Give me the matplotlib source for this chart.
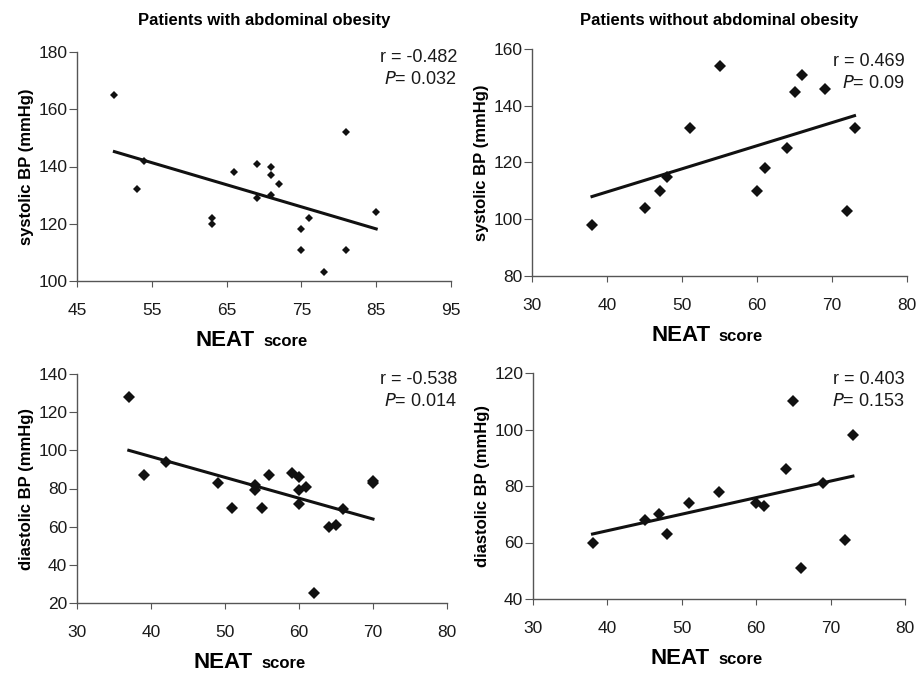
import matplotlib
matplotlib.use("Agg")
import matplotlib.pyplot as plt

plt.rcParams["font.family"] = ["Liberation Sans", "DejaVu Sans"]

# NEAT score vs blood pressure, split by abdominal obesity
sys_ob_x = [50, 53, 54, 63, 63, 66, 69, 69, 71, 71, 71, 72, 75, 75, 76, 78, 81, 81, 85]
sys_ob_y = [165, 132, 142, 122, 120, 138, 141, 129, 140, 137, 130, 134, 118, 111, 122, 103, 152, 111, 124]
sys_ob_fit = ([50, 85], [145.2, 118.2])

sys_no_x = [38, 45, 47, 48, 51, 55, 60, 61, 64, 65, 66, 69, 72, 73]
sys_no_y = [98, 104, 110, 115, 132, 154, 110, 118, 125, 145, 151, 146, 103, 132]
sys_no_fit = ([38, 73], [108, 136.5])

dia_ob_x = [37, 39, 42, 49, 51, 54, 54, 55, 56, 59, 60, 60, 60, 61, 62, 64, 65, 66, 70, 70]
dia_ob_y = [128, 87, 94, 83, 70, 82, 79, 70, 87, 88, 86, 79, 72, 81, 25, 60, 61, 69, 84, 83]
dia_ob_fit = ([37, 70], [100, 64])

dia_no_x = [38, 45, 47, 48, 51, 55, 60, 61, 64, 65, 66, 69, 72, 73]
dia_no_y = [60, 68, 70, 63, 74, 78, 74, 73, 86, 110, 51, 81, 61, 98]
dia_no_fit = ([38, 73], [63, 83.5])

stats = [("-0.482", "0.032"), ("0.469", "0.09"), ("-0.538", "0.014"), ("0.403", "0.153")]
titles = ["Patients with abdominal obesity", "Patients without abdominal obesity"]

W, H = 921, 677
# axes boxes in pixels: left, top, right, bottom
boxes = [(77, 52, 451, 281), (532, 49, 907, 276), (77, 374, 447, 603), (533, 373, 905, 599)]
# r / P annotation anchor in pixels: right edge x, y of the r line
stat_pos = [(457, 58), (905, 61), (457, 380), (905, 380)]
panels = [
    (sys_ob_x, sys_ob_y, sys_ob_fit, (45, 95, 10), (100, 180, 20), "systolic BP (mmHg)", 4.4),
    (sys_no_x, sys_no_y, sys_no_fit, (30, 80, 10), (80, 160, 20), "systolic BP (mmHg)", 6.0),
    (dia_ob_x, dia_ob_y, dia_ob_fit, (30, 80, 10), (20, 140, 20), "diastolic BP (mmHg)", 6.0),
    (dia_no_x, dia_no_y, dia_no_fit, (30, 80, 10), (40, 120, 20), "diastolic BP (mmHg)", 6.0),
]

fig = plt.figure(figsize=(W / 100, H / 100), dpi=100)
grey = "#555555"
ink = "#1a1a1a"

for i, ((xs, ys, fit, xr, yr, ylab, ms), box) in enumerate(zip(panels, boxes)):
    l, t, r, b = box
    ax = fig.add_axes([l / W, 1 - b / H, (r - l) / W, (b - t) / H])
    ax.plot(fit[0], fit[1], color="#111111", lw=2.2, zorder=2)
    ax.plot(xs, ys, ls="none", marker="D", ms=ms, color="#111111", mew=0, zorder=3)
    ax.set_xlim(xr[0], xr[1])
    ax.set_ylim(yr[0], yr[1])
    ax.set_xticks(range(xr[0], xr[1] + 1, xr[2]))
    ax.set_yticks(range(yr[0], yr[1] + 1, yr[2]))
    for s in ("top", "right"):
        ax.spines[s].set_visible(False)
    for s in ("left", "bottom"):
        ax.spines[s].set_color(grey)
        ax.spines[s].set_linewidth(1.0)
    ax.tick_params(axis="x", direction="out", length=4, color=grey, pad=12,
                   labelsize=12.5, labelcolor=ink)
    ax.tick_params(axis="y", direction="out", length=6, color=grey, pad=1,
                   labelsize=12.5, labelcolor=ink)
    ax.set_ylabel(ylab, fontsize=12, fontweight="bold", labelpad=3)

    # x label: big "NEAT" with smaller "score"
    cx = (l + r) / 2 / W - 0.01
    ly = 1 - (b + 65) / H
    fig.text(cx, ly, "NEAT", fontsize=16, fontweight="bold", ha="right", va="baseline")
    fig.text(cx + 0.009, ly, "score", fontsize=12, fontweight="bold",
             ha="left", va="baseline")

    rv, pv = stats[i]
    sx, sy = stat_pos[i]
    fig.text(sx / W, 1 - sy / H, f"r = {rv}", ha="right", va="center",
             fontsize=13, color=ink)
    fig.text(sx / W, 1 - (sy + 22) / H, f"$\\it{{P}}$= {pv}", ha="right",
             va="center", fontsize=13, color=ink)

    if i < 2:
        fig.text((l + r) / 2 / W, 1 - 21 / H, titles[i], fontsize=12,
                 fontweight="bold", ha="center", va="center")

fig.savefig("out.png", dpi=100)
